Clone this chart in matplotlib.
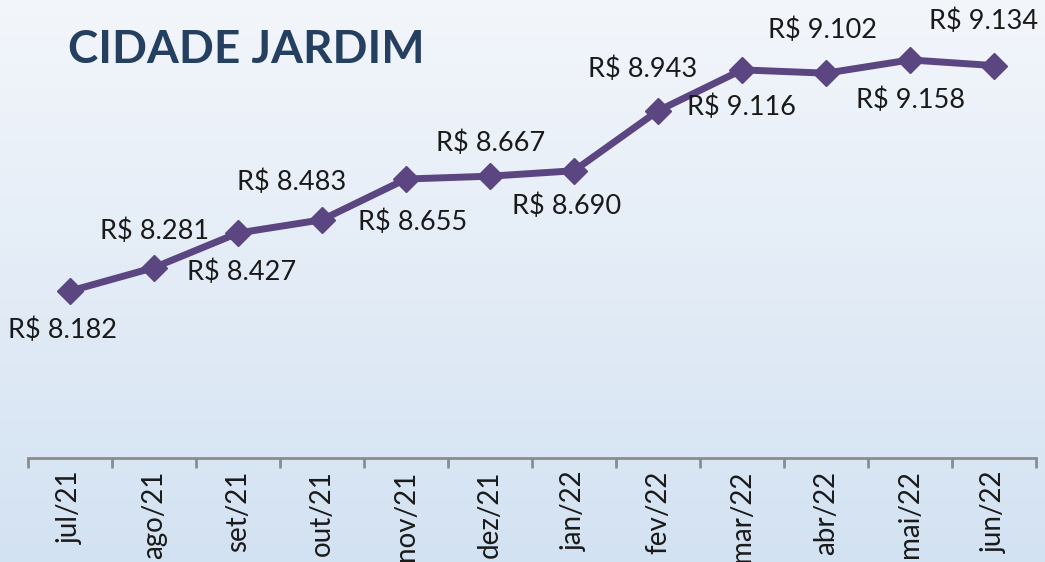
import numpy as np
import matplotlib
matplotlib.use("Agg")
import matplotlib.pyplot as plt
from matplotlib.colors import LinearSegmentedColormap

months = ["jul/21", "ago/21", "set/21", "out/21", "nov/21", "dez/21",
          "jan/22", "fev/22", "mar/22", "abr/22", "mai/22", "jun/22"]
values = [8182, 8281, 8427, 8483, 8655, 8667, 8690, 8943, 9116, 9102, 9158, 9134]
labels = ["R$ 8.182", "R$ 8.281", "R$ 8.427", "R$ 8.483", "R$ 8.655", "R$ 8.667",
          "R$ 8.690", "R$ 8.943", "R$ 9.116", "R$ 9.102", "R$ 9.158", "R$ 9.134"]
title = "CIDADE JARDIM"

# label offsets in pixels (dx, dy; dy positive = downward)
label_dx = [-7, 0, 4, -30, 7, 1, -7, -15, -1, -3, 0, -10]
label_dy = [39, -36, 39, -38, 43, -33, 36, -42, 37, -43, 40, -44]

plt.rcParams['font.family'] = ['Lato', 'DejaVu Sans']

fig = plt.figure(figsize=(10.45, 5.62), dpi=100)

bg = fig.add_axes([0, 0, 1, 1], zorder=0)
cmap = LinearSegmentedColormap.from_list("bg", ["#F3F6FB", "#D3E2F2"])
grad = np.linspace(0, 1, 256).reshape(-1, 1)
bg.imshow(grad, aspect='auto', cmap=cmap, extent=[0, 1, 0, 1], origin='upper')
bg.set_axis_off()

ax = fig.add_axes([28/1045, 104/562, 1008/1045, 458/562], zorder=1)
ax.patch.set_alpha(0)
x = np.arange(len(months))
ax.plot(x, values, color="#5B4682", lw=5, marker='D', markersize=13,
        markerfacecolor="#5B4682", markeredgecolor="#5B4682", solid_joinstyle='round')
ax.set_xlim(-0.5, len(months) - 0.5)
ax.set_ylim(7477, 9411)

px = 0.72
for i, (v, lab) in enumerate(zip(values, labels)):
    ax.annotate(lab, (i, v), xytext=(label_dx[i] * px, -label_dy[i] * px),
                textcoords='offset points', ha='center', va='center',
                fontsize=19.5, color="#1a1a1a")

for s in ['top', 'right', 'left']:
    ax.spines[s].set_visible(False)
ax.spines['bottom'].set_color("#8C8C8C")
ax.spines['bottom'].set_linewidth(2)
ax.set_yticks([])
ax.set_xticks(np.arange(-0.5, len(months), 1), minor=False)
ax.set_xticklabels([])
ax.tick_params(axis='x', which='major', length=7, width=2, color="#8C8C8C")
ax.set_xticks(x, minor=True)
ax.set_xticklabels(months, minor=True, rotation=90, fontsize=20, color="#1a1a1a")
ax.tick_params(axis='x', which='minor', length=0, pad=9)

fig.text(68/1045, 1 - 50/562, title, fontsize=33, fontweight='bold',
         color="#243F60", ha='left', va='center')

fig.savefig("out.png", dpi=100)
